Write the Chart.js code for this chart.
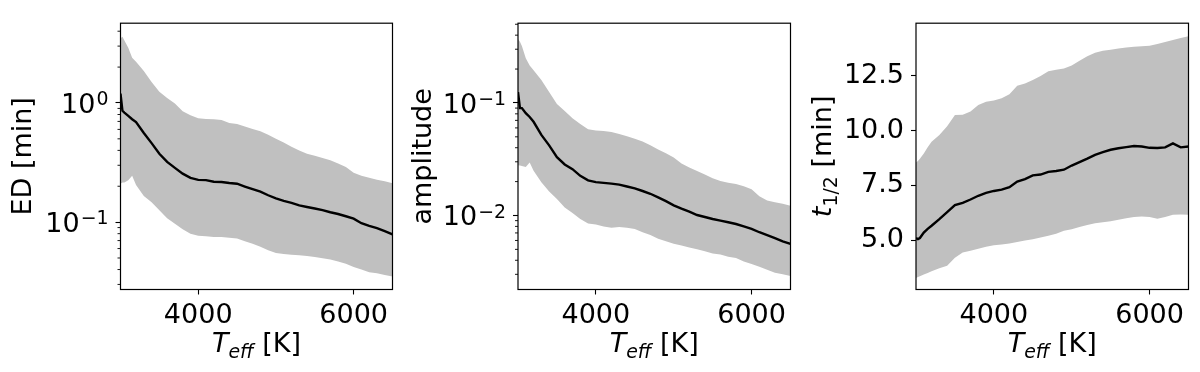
<!DOCTYPE html>
<html>
<head>
<meta charset="utf-8">
<script src="https://cdn.jsdelivr.net/npm/chart.js@4.4.0/dist/chart.umd.min.js"></script>
<style>
  body { margin: 0; background: #fff; }
  #wrap { position: relative; width: 1200px; height: 372px; }
  #wrap canvas { position: absolute; top: 0; }
</style>
</head>
<body>
<div id="wrap">
  <canvas id="ed" width="400" height="372" style="left:0"></canvas>
  <canvas id="amp" width="400" height="372" style="left:400px"></canvas>
  <canvas id="thalf" width="400" height="372" style="left:800px"></canvas>
</div>
<script>
// effective temperature grid (K)
const teff = [3000, 3025, 3050, 3100, 3150, 3200, 3300, 3400, 3500, 3600, 3700, 3800, 3900,
  4000, 4100, 4200, 4300, 4400, 4500, 4600, 4700, 4800, 4900, 5000, 5100, 5200, 5300, 5400,
  5500, 5600, 5700, 5800, 5900, 6000, 6100, 6200, 6300, 6400, 6500];

// ED [min]
const edMedian = [1.2, 0.86, 0.83, 0.78, 0.73, 0.69, 0.56, 0.46, 0.375, 0.32, 0.285, 0.255, 0.235,
  0.226, 0.225, 0.218, 0.217, 0.213, 0.21, 0.199, 0.189, 0.18, 0.168, 0.158, 0.151, 0.145, 0.138, 0.134,
  0.130, 0.126, 0.121, 0.117, 0.112, 0.107, 0.098, 0.093, 0.089, 0.084, 0.079];
const edUpper = [3.5, 3.6, 3.35, 2.9, 2.4, 2.22, 1.85, 1.5, 1.24, 1.1, 0.99, 0.85, 0.79,
  0.745, 0.735, 0.73, 0.72, 0.68, 0.665, 0.635, 0.605, 0.58, 0.54, 0.50, 0.465, 0.43, 0.40, 0.375,
  0.36, 0.345, 0.33, 0.31, 0.29, 0.26, 0.245, 0.236, 0.227, 0.22, 0.212];
const edLower = [0.21, 0.215, 0.215, 0.225, 0.245, 0.205, 0.166, 0.147, 0.126, 0.108, 0.097, 0.087, 0.080,
  0.077, 0.076, 0.075, 0.075, 0.074, 0.073, 0.069, 0.066, 0.062, 0.058, 0.055, 0.054, 0.0533, 0.0527, 0.052,
  0.051, 0.0498, 0.0485, 0.0467, 0.0447, 0.042, 0.040, 0.038, 0.0372, 0.036, 0.035];

// amplitude
const ampMedian = [0.125, 0.09, 0.09, 0.081, 0.075, 0.068, 0.052, 0.042, 0.033, 0.0284, 0.0258, 0.0225, 0.0205,
  0.0198, 0.0195, 0.0192, 0.0188, 0.0181, 0.0174, 0.0165, 0.0156, 0.0145, 0.0134, 0.0123, 0.0115, 0.0108, 0.0101, 0.0097,
  0.0093, 0.009, 0.0087, 0.0084, 0.008, 0.0076, 0.0071, 0.0067, 0.0063, 0.0059, 0.0056];
const ampUpper = [0.37, 0.35, 0.32, 0.25, 0.215, 0.195, 0.16, 0.125, 0.098, 0.085, 0.073, 0.065, 0.0585,
  0.0568, 0.0563, 0.0552, 0.053, 0.0505, 0.048, 0.0455, 0.042, 0.0385, 0.0357, 0.0327, 0.029, 0.0267, 0.0248, 0.0231,
  0.0214, 0.0203, 0.0195, 0.019, 0.0182, 0.0171, 0.0148, 0.0136, 0.0131, 0.0127, 0.0122];
const ampLower = [0.028, 0.0278, 0.0275, 0.027, 0.0295, 0.025, 0.0197, 0.0163, 0.014, 0.0118, 0.0105, 0.0093, 0.0085,
  0.0083, 0.008, 0.0078, 0.0079, 0.0078, 0.0076, 0.0071, 0.0067, 0.0062, 0.0059, 0.0056, 0.0054, 0.0052, 0.005, 0.0048,
  0.0046, 0.0045, 0.0043, 0.0042, 0.0039, 0.0037, 0.0035, 0.0033, 0.0031, 0.003, 0.0029];

// t_1/2 [min]
const tHalfMedian = [5.1, 5.05, 5.1, 5.35, 5.52, 5.66, 5.96, 6.28, 6.6, 6.71, 6.86, 7.03, 7.16,
  7.25, 7.31, 7.42, 7.68, 7.79, 7.96, 8.0, 8.12, 8.16, 8.22, 8.41, 8.57, 8.73, 8.9, 9.02,
  9.13, 9.2, 9.25, 9.3, 9.28, 9.22, 9.21, 9.24, 9.42, 9.24, 9.28];
const tHalfUpper = [8.55, 8.62, 8.72, 8.96, 9.25, 9.5, 9.8, 10.2, 10.72, 10.73, 10.88, 11.18, 11.32,
  11.38, 11.48, 11.66, 12.05, 12.16, 12.32, 12.5, 12.72, 12.78, 12.84, 12.98, 13.2, 13.4, 13.56, 13.65,
  13.7, 13.75, 13.8, 13.84, 13.86, 13.88, 13.96, 14.05, 14.14, 14.23, 14.31];
const tHalfLower = [3.28, 3.32, 3.36, 3.44, 3.5, 3.58, 3.72, 3.84, 4.2, 4.44, 4.52, 4.61, 4.7,
  4.77, 4.8, 4.85, 4.92, 4.99, 5.05, 5.12, 5.2, 5.3, 5.43, 5.5, 5.6, 5.69, 5.78, 5.82,
  5.87, 5.94, 6.0, 6.06, 6.08, 6.06, 5.98, 6.06, 6.16, 6.18, 6.16];

// ticks; log labels are [mantissa, exponent]
const teffTicks = [4000, 6000];
const edTicks = [0.1, 1];
const edTickLabels = [['10', '\u22121'], ['10', '0']];
const ampTicks = [0.01, 0.1];
const ampTickLabels = [['10', '\u22122'], ['10', '\u22121']];
const tHalfTicks = [5, 7.5, 10, 12.5];
const tHalfTickLabels = ['5.0', '7.5', '10.0', '12.5'];

const FONT = 'DejaVu Sans';
const FS = 27;   // tick labels
const TS = 27;   // axis titles

const points = (ys) => teff.map((t, i) => ({ x: t, y: ys[i] }));

// mixed text runs (italic / subscript pieces) on baseline 0
function drawRuns(ctx, runs, size) {
  const fontOf = (r) => (r.italic ? 'italic ' : '') + (r.sub ? size * 0.7 : size) + 'px "' + FONT + '"';
  let total = 0;
  runs.forEach(r => { ctx.font = fontOf(r); total += ctx.measureText(r.text).width; });
  let x = -total / 2;
  ctx.textBaseline = 'alphabetic';
  ctx.textAlign = 'left';
  runs.forEach(r => {
    ctx.font = fontOf(r);
    ctx.fillText(r.text, x, r.sub ? size * 0.22 : 0);
    x += ctx.measureText(r.text).width;
  });
}

const panelDecor = {
  id: 'panelDecor',
  afterDatasetsDraw(chart) {
    const { ctx, chartArea: a } = chart;
    const ys = chart.scales.y;
    ctx.save();
    ctx.strokeStyle = '#000';
    ctx.lineWidth = 1.2;
    ctx.strokeRect(a.left, a.top, a.right - a.left, a.bottom - a.top);
    if (ys.type === 'logarithmic') {
      ctx.lineWidth = 0.9;
      ys.ticks.forEach(t => {
        if (t.major) return;
        const p = ys.getPixelForValue(t.value);
        ctx.beginPath();
        ctx.moveTo(a.left - 3, p);
        ctx.lineTo(a.left, p);
        ctx.stroke();
      });
    }
    ctx.restore();
  },
  afterDraw(chart, args, opts) {
    const { ctx, chartArea: a } = chart;
    const ys = chart.scales.y;
    ctx.save();
    ctx.fillStyle = '#000';
    // power-of-ten labels with real superscripts
    if (opts.powLabels) {
      ctx.textBaseline = 'alphabetic';
      ctx.textAlign = 'right';
      opts.powTicks.forEach((v, i) => {
        const [base, exp] = opts.powLabels[i];
        const p = ys.getPixelForValue(v);
        const right = a.left - 12;
        ctx.font = (FS * 0.7) + 'px "' + FONT + '"';
        const ew = ctx.measureText(exp).width;
        ctx.fillText(exp, right, p + 2.3);
        ctx.font = FS + 'px "' + FONT + '"';
        ctx.fillText(base, right - ew - 1, p + 10);
      });
    }
    ctx.translate((a.left + a.right) / 2, opts.xBase);
    drawRuns(ctx, opts.xTitle, TS);
    ctx.restore();
    ctx.save();
    ctx.fillStyle = '#000';
    ctx.translate(opts.yBase, (a.top + a.bottom) / 2);
    ctx.rotate(-Math.PI / 2);
    drawRuns(ctx, opts.yTitle, TS);
    ctx.restore();
  }
};

const teffTitle = [{ text: 'T', italic: true }, { text: 'eff', italic: true, sub: true }, { text: ' [K]' }];

function logTicks(min, max, majors) {
  const out = [];
  for (let k = Math.floor(Math.log10(min)); k <= Math.ceil(Math.log10(max)); k++) {
    for (let m = 1; m <= 9; m++) {
      const v = m * Math.pow(10, k);
      if (v >= min && v <= max) out.push({ value: v, major: majors.some(j => Math.abs(j - v) < v * 1e-9) });
    }
  }
  return out;
}

function makePanel(id, cfg) {
  const isLog = cfg.yType === 'logarithmic';
  new Chart(document.getElementById(id), {
    type: 'line',
    data: {
      datasets: [
        { data: points(cfg.median), borderColor: '#000', borderWidth: 2.4, pointRadius: 0, fill: false },
        { data: points(cfg.upper), borderWidth: 0, pointRadius: 0, backgroundColor: '#c0c0c0', fill: '+1' },
        { data: points(cfg.lower), borderWidth: 0, pointRadius: 0, backgroundColor: '#c0c0c0', fill: false }
      ]
    },
    options: {
      responsive: false,
      animation: false,
      events: [],
      layout: { padding: { top: 10.7, right: cfg.padRight, left: 0, bottom: 0 } },
      plugins: {
        legend: { display: false },
        tooltip: { enabled: false },
        panelDecor: {
          xTitle: teffTitle, yTitle: cfg.yTitle, xBase: 352, yBase: 31,
          powTicks: isLog ? cfg.ticks : null, powLabels: isLog ? cfg.tickLabels : null
        }
      },
      scales: {
        x: {
          type: 'linear',
          min: 3000,
          max: 6500,
          afterBuildTicks: (s) => { s.ticks = teffTicks.map(v => ({ value: v, major: true })); },
          afterFit: (s) => { s.height = 82.5; },
          ticks: { color: '#000', font: { family: FONT, size: FS }, padding: 5, maxRotation: 0, autoSkip: false,
            callback: (v) => String(v) },
          grid: { drawOnChartArea: false, drawTicks: true, tickLength: 5, tickWidth: 1.1, tickColor: '#000' },
          border: { display: false }
        },
        y: {
          type: cfg.yType,
          min: cfg.yMin,
          max: cfg.yMax,
          afterBuildTicks: (s) => {
            s.ticks = isLog ? logTicks(cfg.yMin, cfg.yMax, cfg.ticks)
              : cfg.ticks.map(v => ({ value: v, major: true }));
          },
          afterFit: (s) => { s.width = cfg.axisWidth; },
          ticks: {
            color: '#000', font: { family: FONT, size: FS }, padding: 7, autoSkip: false,
            callback: (v) => {
              if (isLog) return '';
              const i = cfg.ticks.findIndex(t => Math.abs(t - v) < Math.abs(v) * 1e-9);
              return i >= 0 ? cfg.tickLabels[i] : '';
            }
          },
          grid: {
            drawOnChartArea: false, drawTicks: true, tickLength: 5, tickWidth: 1.1,
            tickColor: (c) => (c.tick && c.tick.major ? '#000' : 'rgba(0,0,0,0)')
          },
          border: { display: false }
        }
      }
    },
    plugins: [panelDecor]
  });
}

makePanel('ed', {
  median: edMedian, upper: edUpper, lower: edLower,
  yType: 'logarithmic', yMin: 0.0272, yMax: 4.67,
  ticks: edTicks, tickLabels: edTickLabels,
  yTitle: [{ text: 'ED [min]' }],
  axisWidth: 120.5, padRight: 7.5
});

makePanel('amp', {
  median: ampMedian, upper: ampUpper, lower: ampLower,
  yType: 'logarithmic', yMin: 0.0022, yMax: 0.511,
  ticks: ampTicks, tickLabels: ampTickLabels,
  yTitle: [{ text: 'amplitude' }],
  axisWidth: 118, padRight: 9.5
});

makePanel('thalf', {
  median: tHalfMedian, upper: tHalfUpper, lower: tHalfLower,
  yType: 'linear', yMin: 2.75, yMax: 14.91,
  ticks: tHalfTicks, tickLabels: tHalfTickLabels,
  yTitle: [{ text: 't', italic: true }, { text: '1/2', sub: true }, { text: ' [min]' }],
  axisWidth: 116, padRight: 11.5
});
</script>
</body>
</html>
